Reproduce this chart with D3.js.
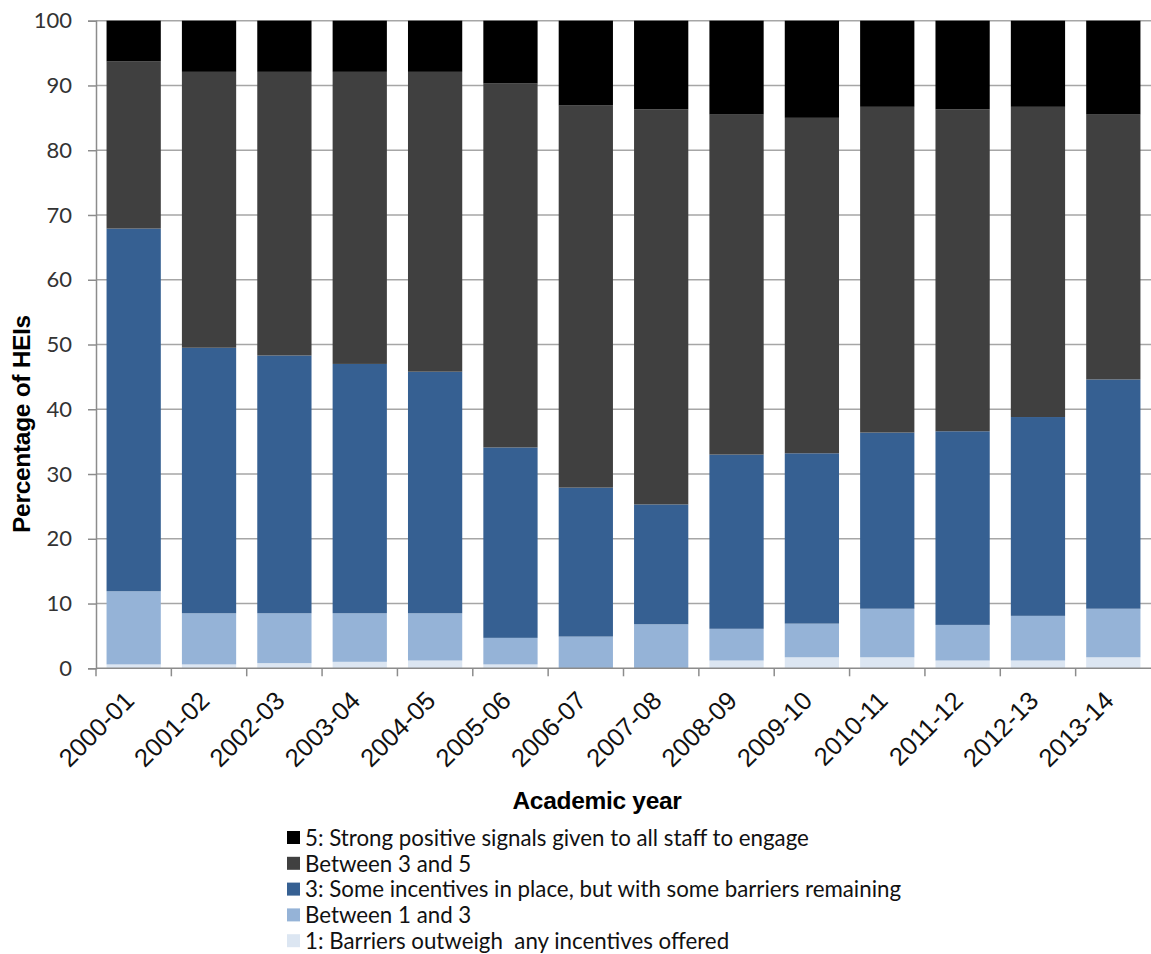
<!DOCTYPE html>
<html>
<head>
<meta charset="utf-8">
<script src="https://cdn.jsdelivr.net/npm/d3@7"></script>
<style>
  body { margin: 0; background: #fff; }
  svg { display: block; }
</style>
</head>
<body>
<svg id="chart" width="1151" height="954"></svg>
<script>
// Academic years on the x axis
const years = ["2000-01","2001-02","2002-03","2003-04","2004-05","2005-06","2006-07",
               "2007-08","2008-09","2009-10","2010-11","2011-12","2012-13","2013-14"];

// Share of HEIs (%) at each level, bottom to top of each stack
const level1    = [0.6, 0.6, 0.8, 1.0, 1.2, 0.6, 0.0, 0.0, 1.2, 1.7, 1.7, 1.2, 1.2, 1.7];
const between13 = [11.3, 7.9, 7.7, 7.5, 7.3, 4.1, 4.9, 6.8, 4.9, 5.2, 7.5, 5.5, 6.9, 7.5];
const level3    = [56.0, 41.0, 39.8, 38.5, 37.3, 29.4, 23.0, 18.5, 26.9, 26.3, 27.2, 29.9, 30.7, 35.4];
const between35 = [25.8, 42.6, 43.8, 45.1, 46.3, 56.2, 59.0, 61.0, 52.5, 51.8, 50.3, 49.7, 47.9, 40.9];
const level5    = [6.3, 7.9, 7.9, 7.9, 7.9, 9.7, 13.1, 13.7, 14.5, 15.0, 13.3, 13.7, 13.3, 14.5];

const seriesNames = [
  "1: Barriers outweigh  any incentives offered",
  "Between 1 and 3",
  "3: Some incentives in place, but with some barriers remaining",
  "Between 3 and 5",
  "5: Strong positive signals given to all staff to engage"
];
const yTicks = [0, 10, 20, 30, 40, 50, 60, 70, 80, 90, 100];

const seriesValues = [level1, between13, level3, between35, level5];
const colors = ["#dce6f2", "#95b3d7", "#366092", "#404040", "#000000"];

// Build a row-per-year table for d3.stack
const keys = seriesNames;
const table = years.map((y, i) => {
  const row = { year: y };
  keys.forEach((k, j) => { row[k] = seriesValues[j][i]; });
  return row;
});
const stacked = d3.stack().keys(keys)(table);

const svg = d3.select("#chart");
const plot = { left: 96, right: 1151, top: 20.7, bottom: 668.3 };

const x = d3.scaleBand()
  .domain(years)
  .range([plot.left, plot.right])
  .paddingInner(0.28)
  .paddingOuter(0.14);

const y = d3.scaleLinear()
  .domain([0, 100])
  .range([plot.bottom, plot.top]);

const gridColor = "#a6a6a6";
const axisColor = "#8c8c8c";

// Horizontal gridlines behind the bars
svg.append("g")
  .selectAll("line")
  .data(yTicks.filter(t => t > 0))
  .join("line")
  .attr("x1", plot.left)
  .attr("x2", plot.right)
  .attr("y1", d => y(d))
  .attr("y2", d => y(d))
  .attr("stroke", gridColor)
  .attr("stroke-width", 1.5);

// Stacked bars
svg.append("g")
  .selectAll("g")
  .data(stacked)
  .join("g")
  .attr("fill", (d, i) => colors[i])
  .selectAll("rect")
  .data(d => d)
  .join("rect")
  .attr("x", d => x(d.data.year))
  .attr("width", x.bandwidth())
  .attr("y", d => y(d[1]))
  .attr("height", d => Math.max(0, y(d[0]) - y(d[1])));

// Y axis
const yAxis = svg.append("g")
  .attr("transform", `translate(${plot.left},0)`)
  .call(d3.axisLeft(y).tickValues(yTicks).tickSize(8).tickPadding(16));
yAxis.select(".domain").attr("stroke", axisColor).attr("stroke-width", 1.5);
yAxis.selectAll(".tick line").attr("stroke", axisColor).attr("stroke-width", 1.5);
yAxis.selectAll(".tick text")
  .attr("font-family", "Lato, 'Open Sans', sans-serif")
  .attr("font-size", 22)
  .attr("fill", "#333");

// X axis: tick marks sit on the category boundaries
const xAxisG = svg.append("g");
xAxisG.append("line")
  .attr("x1", plot.left).attr("x2", plot.right)
  .attr("y1", plot.bottom).attr("y2", plot.bottom)
  .attr("stroke", axisColor).attr("stroke-width", 1.5);
const boundaries = years.map(yr => x(yr) - x.step() * x.paddingInner() / 2);
xAxisG.selectAll("line.tick")
  .data(boundaries)
  .join("line")
  .attr("class", "tick")
  .attr("x1", d => d).attr("x2", d => d)
  .attr("y1", plot.bottom).attr("y2", plot.bottom + 8)
  .attr("stroke", axisColor).attr("stroke-width", 1.5);

xAxisG.selectAll("text")
  .data(years)
  .join("text")
  .attr("transform", d => `translate(${x(d) + x.bandwidth() / 2 + 2},${plot.bottom + 34}) rotate(-45)`)
  .attr("text-anchor", "end")
  .attr("font-family", "'Liberation Sans', Arial, sans-serif")
  .attr("font-size", 25.5)
  .attr("fill", "#111")
  .text(d => d);

// Axis titles
svg.append("text")
  .attr("transform", `translate(30,424) rotate(-90)`)
  .attr("text-anchor", "middle")
  .attr("font-family", "'Liberation Sans', Arial, sans-serif")
  .attr("font-weight", "bold")
  .attr("font-size", 24.5)
  .attr("letter-spacing", -0.3)
  .attr("fill", "#000")
  .text("Percentage of HEIs");

svg.append("text")
  .attr("x", 597)
  .attr("y", 809)
  .attr("text-anchor", "middle")
  .attr("font-family", "'Liberation Sans', Arial, sans-serif")
  .attr("font-weight", "bold")
  .attr("font-size", 24.5)
  .attr("letter-spacing", -0.3)
  .attr("fill", "#000")
  .text("Academic year");

// Legend, top level first
const legendItems = keys.map((k, i) => ({ name: k, color: colors[i] })).reverse();
const legend = svg.append("g").attr("transform", "translate(287,838)");
const rowH = 25.8;
const item = legend.selectAll("g")
  .data(legendItems)
  .join("g")
  .attr("transform", (d, i) => `translate(0,${i * rowH})`);
item.append("rect")
  .attr("x", 0).attr("y", -7)
  .attr("width", 13).attr("height", 13)
  .attr("fill", d => d.color);
item.append("text")
  .attr("x", 18)
  .attr("y", 0)
  .attr("dy", "0.35em")
  .attr("font-family", "Lato, 'Open Sans', sans-serif")
  .attr("font-size", 22.3)
  .attr("fill", "#111")
  .style("white-space", "pre")
  .text(d => d.name);
</script>
</body>
</html>
